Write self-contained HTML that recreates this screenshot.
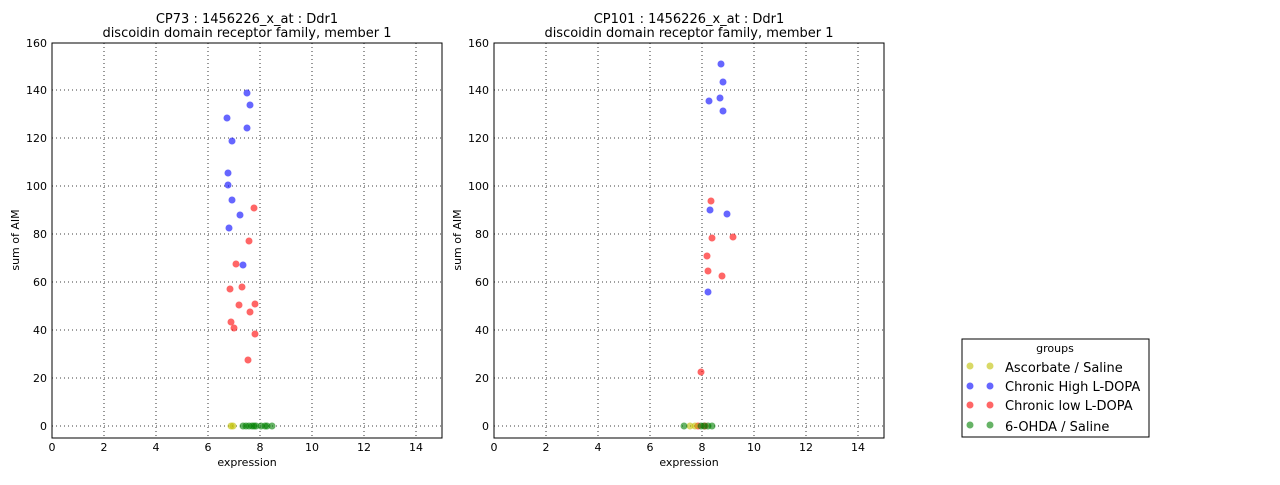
<!DOCTYPE html>
<html><head><style>body{margin:0;background:#fff}</style></head><body>
<svg width="1280" height="480" xmlns="http://www.w3.org/2000/svg" font-family="DejaVu Sans, Liberation Sans, sans-serif">
<defs>
<g id="grid" stroke="#000" stroke-dasharray="1,3" stroke-width="0.8" fill="none">
<line x1="104" y1="43" x2="104" y2="438"/><line x1="156" y1="43" x2="156" y2="438"/><line x1="208" y1="43" x2="208" y2="438"/><line x1="260" y1="43" x2="260" y2="438"/><line x1="312" y1="43" x2="312" y2="438"/><line x1="364" y1="43" x2="364" y2="438"/><line x1="416" y1="43" x2="416" y2="438"/>
<line x1="52" y1="426" x2="442" y2="426"/><line x1="52" y1="378" x2="442" y2="378"/><line x1="52" y1="330" x2="442" y2="330"/><line x1="52" y1="282" x2="442" y2="282"/><line x1="52" y1="234" x2="442" y2="234"/><line x1="52" y1="186" x2="442" y2="186"/><line x1="52" y1="138" x2="442" y2="138"/><line x1="52" y1="90" x2="442" y2="90"/>
</g>
<g id="axes" font-size="11" fill="#000">
<rect x="52" y="43" width="390" height="395" fill="none" stroke="#000"/>
<g text-anchor="middle">
<text x="52" y="451">0</text><text x="104" y="451">2</text><text x="156" y="451">4</text><text x="208" y="451">6</text><text x="260" y="451">8</text><text x="312" y="451">10</text><text x="364" y="451">12</text><text x="416" y="451">14</text>
<text x="247" y="466">expression</text></g>
<g text-anchor="end">
<text x="47" y="430">0</text><text x="47" y="382">20</text><text x="47" y="334">40</text><text x="47" y="286">60</text><text x="47" y="238">80</text><text x="47" y="190">100</text><text x="47" y="142">120</text><text x="47" y="94">140</text><text x="47" y="47">160</text></g>
<text transform="translate(19,240) rotate(-90)" text-anchor="middle">sum of AIM</text>
</g>
</defs>
<g>
<use href="#grid"/><use href="#axes"/>
<text x="247" y="23" font-size="13" text-anchor="middle">CP73 : 1456226_x_at : Ddr1</text>
<text x="247" y="37" font-size="13" text-anchor="middle">discoidin domain receptor family, member 1</text>
<g fill="#0000ff" fill-opacity="0.6">
<circle cx="227" cy="118" r="3.5"/><circle cx="247" cy="93" r="3.5"/><circle cx="250" cy="105" r="3.5"/><circle cx="247" cy="128" r="3.5"/><circle cx="232" cy="141" r="3.5"/><circle cx="228" cy="173" r="3.5"/><circle cx="228" cy="185" r="3.5"/><circle cx="232" cy="200" r="3.5"/><circle cx="240" cy="215" r="3.5"/><circle cx="229" cy="228" r="3.5"/><circle cx="243" cy="265" r="3.5"/></g>
<g fill="#ff0000" fill-opacity="0.6">
<circle cx="254" cy="208" r="3.5"/><circle cx="249" cy="241" r="3.5"/><circle cx="236" cy="264" r="3.5"/><circle cx="242" cy="287" r="3.5"/><circle cx="230" cy="289" r="3.5"/><circle cx="255" cy="304" r="3.5"/><circle cx="239" cy="305" r="3.5"/><circle cx="250" cy="312" r="3.5"/><circle cx="231" cy="322" r="3.5"/><circle cx="234" cy="328" r="3.5"/><circle cx="255" cy="334" r="3.5"/><circle cx="248" cy="360" r="3.5"/></g>
<g fill="#bfbf00" fill-opacity="0.6"><circle cx="231" cy="426" r="3.5"/><circle cx="233" cy="426" r="3.5"/></g>
<g fill="#008000" fill-opacity="0.6">
<circle cx="243" cy="426" r="3.5"/><circle cx="246" cy="426" r="3.5"/><circle cx="249" cy="426" r="3.5"/><circle cx="252" cy="426" r="3.5"/><circle cx="254" cy="426" r="3.5"/><circle cx="256" cy="426" r="3.5"/><circle cx="261" cy="426" r="3.5"/><circle cx="265" cy="426" r="3.5"/><circle cx="267" cy="426" r="3.5"/><circle cx="272" cy="426" r="3.5"/></g>
</g>
<g transform="translate(442,0)">
<use href="#grid"/><use href="#axes"/>
<text x="247" y="23" font-size="13" text-anchor="middle">CP101 : 1456226_x_at : Ddr1</text>
<text x="247" y="37" font-size="13" text-anchor="middle">discoidin domain receptor family, member 1</text>
</g>
<g fill="#0000ff" fill-opacity="0.6">
<circle cx="721" cy="64" r="3.5"/><circle cx="723" cy="82" r="3.5"/><circle cx="709" cy="101" r="3.5"/><circle cx="720" cy="98" r="3.5"/><circle cx="723" cy="111" r="3.5"/><circle cx="710" cy="210" r="3.5"/><circle cx="727" cy="214" r="3.5"/><circle cx="708" cy="292" r="3.5"/></g>
<g fill="#ff0000" fill-opacity="0.6">
<circle cx="711" cy="201" r="3.5"/><circle cx="712" cy="238" r="3.5"/><circle cx="733" cy="237" r="3.5"/><circle cx="707" cy="256" r="3.5"/><circle cx="708" cy="271" r="3.5"/><circle cx="722" cy="276" r="3.5"/><circle cx="701" cy="372" r="3.5"/><circle cx="698" cy="426" r="3.5"/><circle cx="705" cy="426" r="3.5"/></g>
<g fill="#bfbf00" fill-opacity="0.6"><circle cx="690" cy="426" r="3.5"/><circle cx="695" cy="426" r="3.5"/></g>
<g fill="#008000" fill-opacity="0.6"><circle cx="684" cy="426" r="3.5"/><circle cx="701" cy="426" r="3.5"/><circle cx="704" cy="426" r="3.5"/><circle cx="708" cy="426" r="3.5"/><circle cx="712" cy="426" r="3.5"/></g>
<g>
<rect x="962" y="339" width="187" height="98" fill="#fff" stroke="#000"/>
<text x="1055" y="352" font-size="11" text-anchor="middle">groups</text>
<g font-size="13">
<circle cx="970" cy="366" r="3.5" fill="#bfbf00" fill-opacity="0.6"/><circle cx="990" cy="366" r="3.5" fill="#bfbf00" fill-opacity="0.6"/><text x="1005" y="372">Ascorbate / Saline</text>
<circle cx="970" cy="386" r="3.5" fill="#0000ff" fill-opacity="0.6"/><circle cx="990" cy="386" r="3.5" fill="#0000ff" fill-opacity="0.6"/><text x="1005" y="391">Chronic High L-DOPA</text>
<circle cx="970" cy="405" r="3.5" fill="#ff0000" fill-opacity="0.6"/><circle cx="990" cy="405" r="3.5" fill="#ff0000" fill-opacity="0.6"/><text x="1005" y="410">Chronic low L-DOPA</text>
<circle cx="970" cy="425" r="3.5" fill="#008000" fill-opacity="0.6"/><circle cx="990" cy="425" r="3.5" fill="#008000" fill-opacity="0.6"/><text x="1005" y="431">6-OHDA / Saline</text>
</g></g>
</svg>
</body></html>
